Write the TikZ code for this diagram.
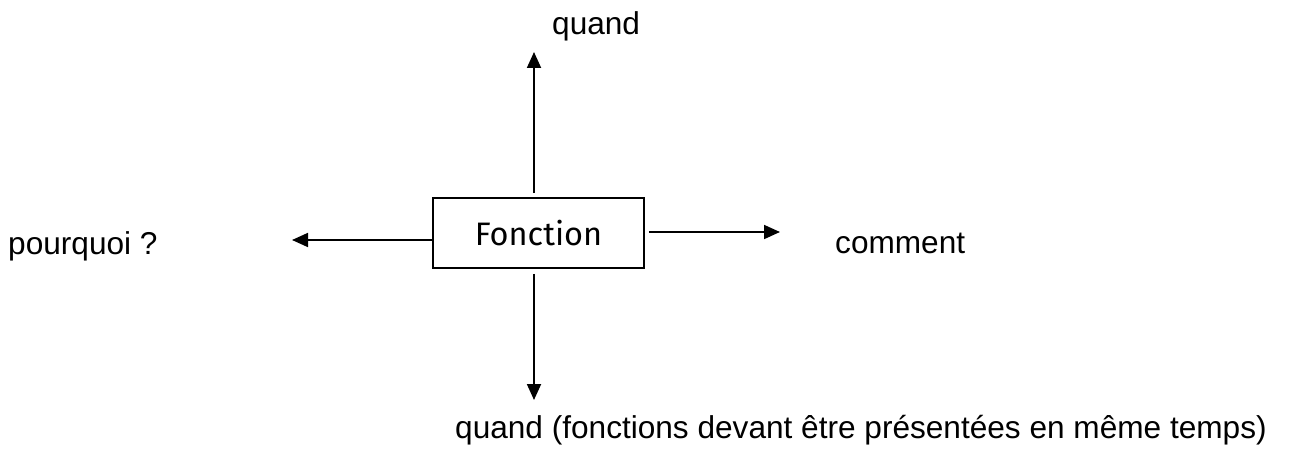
\documentclass[tikz,border=0pt]{standalone}
\usepackage{fontspec}
\setmainfont{Liberation Sans}
\newfontfamily\boxfont{Fira Sans}
\usetikzlibrary{arrows.meta}

\begin{document}
\begin{tikzpicture}[x=1pt,y=1pt,
    arr/.style={line width=1.8pt,-{Triangle[length=16pt,width=14pt]}},
    lbl/.style={anchor=base west,inner sep=0pt,font=\fontsize{31.6}{36}\selectfont}]
    \useasboundingbox (0,0) rectangle (1290,448);
    \node[draw,line width=1.8pt,minimum width=211pt,minimum height=70pt,inner sep=0pt,
      font=\boxfont\fontsize{32.5}{38}\selectfont] (fonction) at (538.5,215) {Fonction};
    \coordinate (hautbout) at (534,396);
    \coordinate (basbout) at (534,48);
    \coordinate (gauchebout) at (292,208);
    \coordinate (droitebout) at (780,216);
    \draw[arr] ([xshift=-4.5pt,yshift=4pt]fonction.north) -- (hautbout);
    \draw[arr] ([xshift=-4.5pt,yshift=-5pt]fonction.south) -- (basbout);
    \draw[arr] ([yshift=-7pt]fonction.west) -- (gauchebout);
    \draw[arr] ([xshift=4pt,yshift=1pt]fonction.east) -- (droitebout);
    \node[lbl] (quand) at (552,413) {quand};
    \node[lbl] (pourquoi) at (8,194) {pourquoi ?};
    \node[lbl] (comment) at (835,195) {comment};
    \node[lbl] (quand2) at (455,10) {quand (fonctions devant être présentées en même temps)};
  \end{tikzpicture}
\end{document}
